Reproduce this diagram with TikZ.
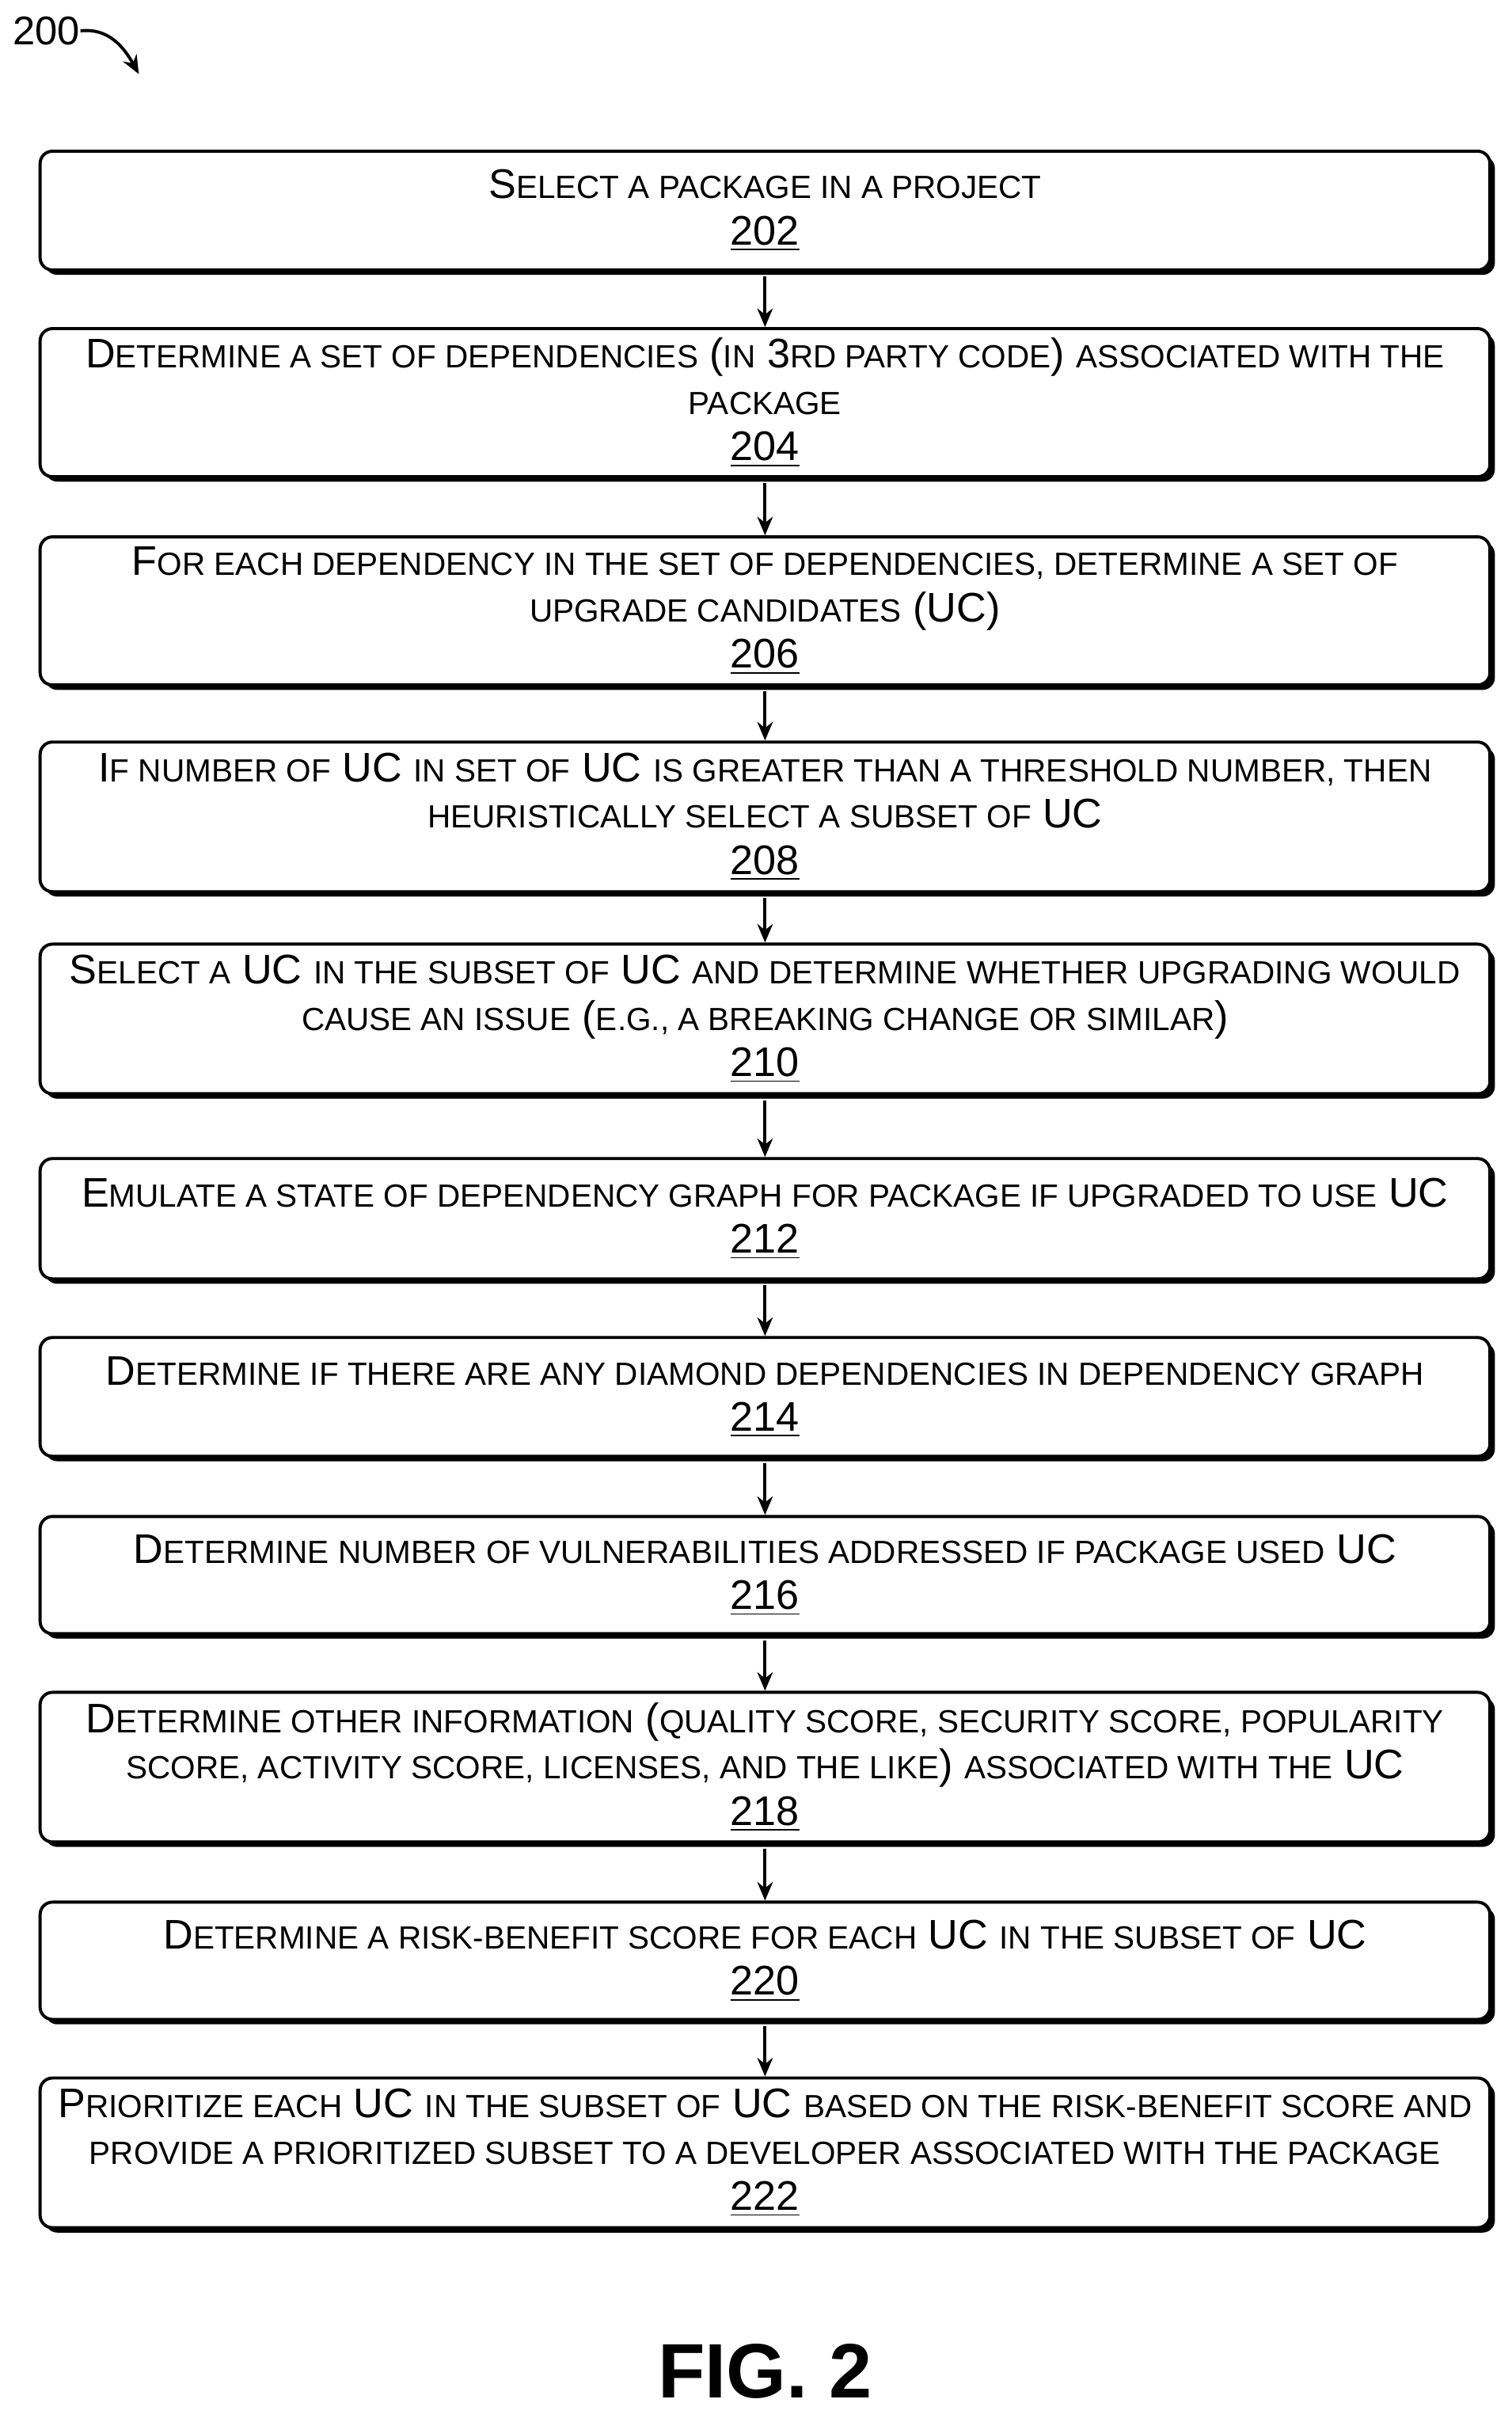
\documentclass[tikz,border=0pt]{standalone}
\usepackage{fontspec}
\setmainfont{Liberation Sans}
\usetikzlibrary{arrows.meta,shadows}
\newcommand\sm{\fontsize{10.4}{15}\selectfont}
\begin{document}
\begin{tikzpicture}[x=0.5pt,y=-0.5pt,
 box/.style={draw,line width=1pt,rounded corners=4pt,fill=white,minimum width=470pt,align=center,
   font=\fontsize{13.4}{15}\selectfont,inner sep=0pt,
   drop shadow={shadow xshift=1.6pt,shadow yshift=-1.6pt,fill=black,opacity=1}},
 arr/.style={-{Stealth[length=6pt,width=5pt]},line width=1pt}]
\useasboundingbox (0,0) rectangle (980,1570);
\node[anchor=west,font=\fontsize{13}{14}\selectfont,inner sep=0pt] (l200) at (8,20) {200};
\coordinate (e200) at (90,48);
\draw[arr] (l200.east) .. controls (70,18) and (80,30) .. (e200);
\node[box,minimum height=38.5pt] (b202) at (496,136.5) {S{\sm ELECT A PACKAGE IN A PROJECT}\\\underline{202}};
\node[box,minimum height=48pt] (b204) at (496,261) {D{\sm ETERMINE A SET OF DEPENDENCIES} ({\sm IN} 3{\sm RD PARTY CODE}) {\sm ASSOCIATED WITH THE}\\{\sm PACKAGE}\\\underline{204}};
\node[box,minimum height=48pt] (b206) at (496,396) {F{\sm OR EACH DEPENDENCY IN THE SET OF DEPENDENCIES, DETERMINE A SET OF}\\{\sm UPGRADE CANDIDATES} (UC)\\\underline{206}};
\node[box,minimum height=48.5pt] (b208) at (496,529.5) {I{\sm F NUMBER OF} UC {\sm IN SET OF} UC {\sm IS GREATER THAN A THRESHOLD NUMBER, THEN}\\{\sm HEURISTICALLY SELECT A SUBSET OF} UC\\\underline{208}};
\node[box,minimum height=48.5pt] (b210) at (496,660.5) {S{\sm ELECT A} UC {\sm IN THE SUBSET OF} UC {\sm AND DETERMINE WHETHER UPGRADING WOULD}\\{\sm CAUSE AN ISSUE} ({\sm E.G., A BREAKING CHANGE OR SIMILAR})\\\underline{210}};
\node[box,minimum height=39pt] (b212) at (496,790) {E{\sm MULATE A STATE OF DEPENDENCY GRAPH FOR PACKAGE IF UPGRADED TO USE} UC\\\underline{212}};
\node[box,minimum height=38.5pt] (b214) at (496,905.5) {D{\sm ETERMINE IF THERE ARE ANY DIAMOND DEPENDENCIES IN DEPENDENCY GRAPH}\\\underline{214}};
\node[box,minimum height=38pt] (b216) at (496,1021) {D{\sm ETERMINE NUMBER OF VULNERABILITIES ADDRESSED IF PACKAGE USED} UC\\\underline{216}};
\node[box,minimum height=48.5pt] (b218) at (496,1145.5) {D{\sm ETERMINE OTHER INFORMATION} ({\sm QUALITY SCORE, SECURITY SCORE, POPULARITY}\\{\sm SCORE, ACTIVITY SCORE, LICENSES, AND THE LIKE}) {\sm ASSOCIATED WITH THE} UC\\\underline{218}};
\node[box,minimum height=38pt] (b220) at (496,1271) {D{\sm ETERMINE A RISK-BENEFIT SCORE FOR EACH} UC {\sm IN THE SUBSET OF} UC\\\underline{220}};
\node[box,minimum height=48.5pt] (b222) at (496,1395.5) {P{\sm RIORITIZE EACH} UC {\sm IN THE SUBSET OF} UC {\sm BASED ON THE RISK-BENEFIT SCORE AND}\\{\sm PROVIDE A PRIORITIZED SUBSET TO A DEVELOPER ASSOCIATED WITH THE PACKAGE}\\\underline{222}};
\foreach \a/\b in {202/204,204/206,206/208,208/210,210/212,212/214,214/216,216/218,218/220,220/222}
  \draw[arr] ([yshift=-1.6pt]b\a.south) -- (b\b.north);
\node[font=\fontsize{25}{30}\selectfont\bfseries] (fig) at (496,1537) {FIG. 2};
\end{tikzpicture}
\end{document}
